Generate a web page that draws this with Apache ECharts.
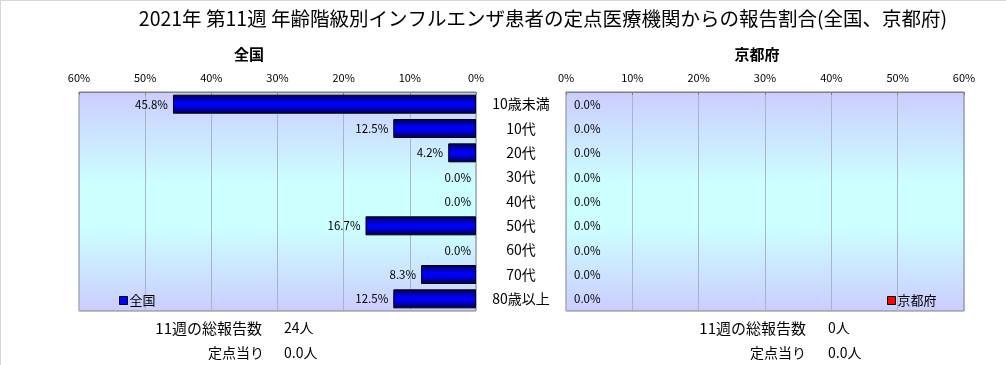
<!DOCTYPE html>
<html>
<head>
<meta charset="utf-8">
<script src="https://cdn.jsdelivr.net/npm/echarts@6/dist/echarts.min.js"></script>
<style>html,body{margin:0;padding:0;background:#fff}#c{width:1006px;height:365px}</style>
</head>
<body>
<div id="c"></div>
<script>
const categories = ['10歳未満','10代','20代','30代','40代','50代','60代','70代','80歳以上'];
const nationalValues = [45.8,12.5,4.2,0.0,0.0,16.7,0.0,8.3,12.5];
const kyotoValues = [0.0,0.0,0.0,0.0,0.0,0.0,0.0,0.0,0.0];
const axisMin = 0, axisMax = 60, axisInterval = 10;
const titleText = '2021年 第11週 年齢階級別インフルエンザ患者の定点医療機関からの報告割合(全国、京都府)';
const nationalName = '全国', kyotoName = '京都府';
const nationalTotal = '24人', nationalPer = '0.0人';
const kyotoTotal = '0人', kyotoPer = '0.0人';
const totalLabel = '11週の総報告数', perLabel = '定点当り';

const FONT = '"Noto Sans CJK JP", sans-serif';
const chart = echarts.init(document.getElementById('c'), null, {renderer:'canvas'});
function bgGrad(){ return new echarts.graphic.LinearGradient(0,0,0,1,[
  {offset:0,color:'#ccccff'},{offset:0.42,color:'#ccffff'},{offset:0.62,color:'#ccffff'},{offset:1,color:'#ccccff'}]); }
const blueGrad = new echarts.graphic.LinearGradient(0,0,0,1,[
  {offset:0,color:'#000050'},{offset:0.45,color:'#0000ff'},{offset:0.62,color:'#0000e8'},{offset:1,color:'#000040'}]);
const redGrad = new echarts.graphic.LinearGradient(0,0,0,1,[
  {offset:0,color:'#500000'},{offset:0.45,color:'#ff0000'},{offset:0.62,color:'#e80000'},{offset:1,color:'#400000'}]);

const xAxisCommon = {
  type:'value', min:axisMin, max:axisMax, interval:axisInterval, position:'top',
  axisLine:{show:true,lineStyle:{color:'#808080'}},
  axisTick:{show:true,inside:true,length:3,lineStyle:{color:'#808080'}},
  axisLabel:{formatter:'{value}%',color:'#000',fontSize:11,fontFamily:FONT,margin:9},
  splitLine:{show:true,lineStyle:{color:'#a8b4c8',width:1}}
};
const yAxisCommon = {
  type:'category', data:categories, inverse:true,
  axisLine:{show:false}, axisTick:{show:false}, splitLine:{show:false}
};
const labelStyle = {fontSize:11.5,fontFamily:FONT,color:'#000',formatter:p=>p.value.toFixed(1)+'%'};
function barData(vals){ return vals.map(v => v === 0 ? {value:v,itemStyle:{borderWidth:0}} : v); }

function txt(x,y,t,align,size,weight){
  return {type:'text',x:x,y:y,style:{text:t,fill:'#000',font:(weight||'normal')+' '+size+'px '+FONT,textAlign:align,textVerticalAlign:'middle'}};
}

chart.setOption({
  backgroundColor:'#fff',
  animation:false,
  title:[
    {text:titleText,left:538,top:4,textAlign:'center',textStyle:{fontSize:19.5,fontWeight:'normal',fontFamily:FONT,color:'#000'}},
    {text:nationalName,left:244,top:42,textAlign:'center',textStyle:{fontSize:15,fontWeight:'bold',fontFamily:FONT,color:'#000'}},
    {text:kyotoName,left:752,top:42,textAlign:'center',textStyle:{fontSize:15,fontWeight:'bold',fontFamily:FONT,color:'#000'}}
  ],
  legend:[
    {data:[{name:nationalName,icon:'rect'}],left:114,top:289,itemWidth:8,itemHeight:8,itemGap:2,
     itemStyle:{color:'#0000ff',borderColor:'#000',borderWidth:1},
     textStyle:{fontSize:13,fontFamily:FONT,color:'#000',padding:[0,0,0,-3]}},
    {data:[{name:kyotoName,icon:'rect'}],left:882,top:289,itemWidth:8,itemHeight:8,itemGap:2,
     itemStyle:{color:'#ff0000',borderColor:'#000',borderWidth:1},
     textStyle:{fontSize:13,fontFamily:FONT,color:'#000',padding:[0,0,0,-3]}}
  ],
  grid:[
    {left:79,top:92,width:397,height:219,show:true,backgroundColor:bgGrad(),borderColor:'#808080',borderWidth:1},
    {left:566,top:92,width:398,height:219,show:true,backgroundColor:bgGrad(),borderColor:'#808080',borderWidth:1}
  ],
  xAxis:[
    Object.assign({gridIndex:0,inverse:true},xAxisCommon),
    Object.assign({gridIndex:1},xAxisCommon)
  ],
  yAxis:[
    Object.assign({gridIndex:0,position:'right',axisLabel:{show:true,align:'center',margin:45,fontSize:14,fontFamily:FONT,color:'#000'}},yAxisCommon),
    Object.assign({gridIndex:1,position:'left',axisLabel:{show:false}},yAxisCommon)
  ],
  series:[
    {name:nationalName,type:'bar',xAxisIndex:0,yAxisIndex:0,data:barData(nationalValues),barCategoryGap:'22%',
     itemStyle:{color:blueGrad,borderColor:'#000',borderWidth:1},
     label:Object.assign({show:true,position:'left',distance:5},labelStyle)},
    {name:kyotoName,type:'bar',xAxisIndex:1,yAxisIndex:1,data:barData(kyotoValues),barCategoryGap:'22%',
     itemStyle:{color:redGrad,borderColor:'#000',borderWidth:1},
     label:Object.assign({show:true,position:'right',distance:8},labelStyle)}
  ],
  graphic:[
    {type:'line',shape:{x1:0,y1:0.5,x2:1006,y2:0.5},style:{stroke:'#d8d8d8',lineWidth:1}},
    {type:'line',shape:{x1:0.5,y1:0,x2:0.5,y2:365},style:{stroke:'#d8d8d8',lineWidth:1}},
    txt(262,328,totalLabel,'right',15), txt(284,328,nationalTotal,'left',14),
    txt(264,353,perLabel,'right',14), txt(284,353,nationalPer,'left',14),
    txt(806,328,totalLabel,'right',15), txt(828,328,kyotoTotal,'left',14),
    txt(806,353,perLabel,'right',14), txt(828,353,kyotoPer,'left',14)
  ]
});
</script>
</body>
</html>
